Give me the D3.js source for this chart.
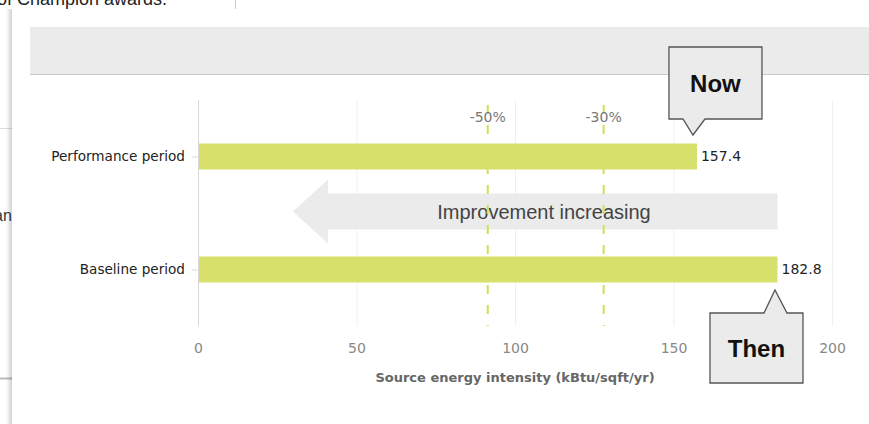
<!DOCTYPE html>
<html lang="en">
<head>
<meta charset="UTF-8">
<title>Source energy intensity</title>
<script src="https://d3js.org/d3.v7.min.js"></script>
<style>
  body { margin: 0; background: #fff; }
  svg { display: block; }
</style>
</head>
<body>
<svg id="chart" width="869" height="424"></svg>
<script>
// data
const categories = ["Performance period", "Baseline period"];
const values = [157.4, 182.8];
const xTicks = [0, 50, 100, 150, 200];
const targets = [-50, -30];           // % reduction from baseline
const targetLabels = ["-50%", "-30%"];
const arrowLabel = "Improvement increasing";
const axisTitle = "Source energy intensity (kBtu/sqft/yr)";
const calloutLabels = ["Now", "Then"];

const svg = d3.select("#chart");
const W = 869, H = 424;

// --- page behind the popup (screenshot backdrop)
svg.append("rect").attr("width", W).attr("height", H).attr("fill", "#fff");
svg.append("text").attr("x", -3).attr("y", 5)
  .attr("font-family", "Liberation Sans, Arial, sans-serif").attr("font-size", 18)
  .attr("fill", "#222").text("of Champion awards.");
svg.append("line").attr("x1", 235.5).attr("x2", 235.5).attr("y1", 0).attr("y2", 9)
  .attr("stroke", "#ccc");
svg.append("line").attr("x1", 0).attr("x2", 12).attr("y1", 128.5).attr("y2", 128.5)
  .attr("stroke", "#ddd");
svg.append("line").attr("x1", 0).attr("x2", 12).attr("y1", 378.5).attr("y2", 378.5)
  .attr("stroke", "#bbb").attr("stroke-width", 2);
svg.append("text").attr("x", -6).attr("y", 221)
  .attr("font-family", "Liberation Sans, Arial, sans-serif").attr("font-size", 16)
  .attr("fill", "#333").text("an");

// popup panel with a soft shadow on the left
const defs = svg.append("defs");
const grad = defs.append("linearGradient").attr("id", "shadow")
  .attr("x1", 0).attr("x2", 1).attr("y1", 0).attr("y2", 0);
grad.append("stop").attr("offset", 0).attr("stop-color", "#000").attr("stop-opacity", 0);
grad.append("stop").attr("offset", 1).attr("stop-color", "#000").attr("stop-opacity", 0.18);
svg.append("rect").attr("x", 6).attr("y", 9).attr("width", 6).attr("height", H)
  .attr("fill", "url(#shadow)");
svg.append("rect").attr("x", 12).attr("y", 9).attr("width", W - 12).attr("height", H)
  .attr("fill", "#fff");
svg.append("rect").attr("x", 30).attr("y", 27).attr("width", W - 30).attr("height", 47)
  .attr("fill", "#ebebeb");
svg.append("line").attr("x1", 30).attr("x2", W).attr("y1", 74.5).attr("y2", 74.5)
  .attr("stroke", "#c8c8c8");

// --- scales
const plotTop = 100, plotBottom = 326;
const x = d3.scaleLinear().domain([0, 200]).range([198, 832]);
const y = d3.scalePoint().domain(categories).range([plotTop, plotBottom]).padding(0.5);
const barH = 26;
const font = "DejaVu Sans, Verdana, sans-serif";

// gridlines
svg.append("g").selectAll("line").data(xTicks.slice(1)).join("line")
  .attr("x1", d => x(d) + 0.5).attr("x2", d => x(d) + 0.5)
  .attr("y1", plotTop).attr("y2", plotBottom)
  .attr("stroke", "#f0f0f0");

// x axis (labels only)
const xAxis = svg.append("g").attr("transform", `translate(0,${plotBottom})`)
  .call(d3.axisBottom(x).tickValues(xTicks).tickSize(0).tickPadding(17));
xAxis.select(".domain").remove();
xAxis.selectAll("text").attr("font-family", font).attr("font-size", 14).attr("fill", "#888");

svg.append("text").attr("x", x(100)).attr("y", 382)
  .attr("text-anchor", "middle").attr("font-family", font).attr("font-size", 13)
  .attr("font-weight", "bold").attr("fill", "#666").text(axisTitle);

// y axis
const yAxis = svg.append("g").attr("transform", `translate(${x(0)},0)`)
  .call(d3.axisLeft(y).tickSize(6).tickPadding(7));
yAxis.select(".domain").attr("d", `M0.5,${plotTop}V${plotBottom}`).attr("stroke", "#d8d8d8");
yAxis.selectAll(".tick line").attr("stroke", "#d8d8d8");
yAxis.selectAll("text").attr("font-family", font).attr("font-size", 13.6).attr("fill", "#222");

// improvement arrow
const ay = (y(categories[0]) + y(categories[1])) / 2 - 1.5;
const aRight = x(values[1]), aBody = 18, aHead = 32, aBase = 328, aTip = 293;
svg.append("path")
  .attr("d", `M${aRight},${ay - aBody}H${aBase}V${ay - aHead}L${aTip},${ay}L${aBase},${ay + aHead}V${ay + aBody}H${aRight}Z`)
  .attr("fill", "#ebebeb");
svg.append("text").attr("x", 544).attr("y", ay).attr("dy", "0.35em")
  .attr("text-anchor", "middle").attr("font-family", "Liberation Sans, Arial, sans-serif")
  .attr("font-size", 20).attr("fill", "#444").text(arrowLabel);

// target lines
const baseline = values[1];
const tg = svg.append("g").selectAll("g").data(targets).join("g")
  .attr("transform", d => `translate(${x(baseline * (1 + d / 100))},0)`);
tg.append("line").attr("x1", 0).attr("x2", 0).attr("y1", 105).attr("y2", plotBottom)
  .attr("stroke", "#d3de55").attr("stroke-width", 2).attr("stroke-dasharray", "9,11");
tg.append("text").attr("y", 122).attr("text-anchor", "middle")
  .attr("font-family", font).attr("font-size", 14).attr("fill", "#777")
  .text((d, i) => targetLabels[i]);

// bars
svg.append("g").selectAll("rect").data(values).join("rect")
  .attr("x", x(0) + 1).attr("y", (d, i) => y(categories[i]) - barH / 2)
  .attr("width", d => x(d) - x(0) - 1).attr("height", barH)
  .attr("fill", "#d7e06b");
svg.append("g").selectAll("text").data(values).join("text")
  .attr("x", d => x(d) + 4).attr("y", (d, i) => y(categories[i]))
  .attr("dy", "0.35em").attr("font-family", font).attr("font-size", 14)
  .attr("fill", "#222").text(d => d.toFixed(1));

// callouts
function callout(tx, ty, box, base, label) {
  const [l, r, t, b] = box;
  let d;
  if (t < 0) { // box above the tip
    d = `M${tx + l},${ty + t}H${tx + r}V${ty + b}H${tx + base[1]}L${tx},${ty}L${tx + base[0]},${ty + b}H${tx + l}Z`;
  } else {
    d = `M${tx + l},${ty + t}H${tx + base[0]}L${tx},${ty}L${tx + base[1]},${ty + t}H${tx + r}V${ty + b}H${tx + l}Z`;
  }
  svg.append("path").attr("d", d).attr("fill", "#ebebeb")
    .attr("stroke", "#555").attr("stroke-width", 1.3);
  svg.append("text").attr("x", tx + (l + r) / 2).attr("y", ty + (t + b) / 2)
    .attr("dy", "0.36em").attr("text-anchor", "middle")
    .attr("font-family", "Liberation Sans, Arial, sans-serif").attr("font-size", 24)
    .attr("font-weight", "bold").attr("fill", "#111").text(label);
}
callout(x(values[0]) - 4, y(categories[0]) - 21.5, [-24, 69, -88, -16], [-10, 12], calloutLabels[0]);
callout(x(values[1]) - 2.5, y(categories[1]) + 20.5, [-65, 28, 23, 93], [-11, 12], calloutLabels[1]);
</script>
</body>
</html>
